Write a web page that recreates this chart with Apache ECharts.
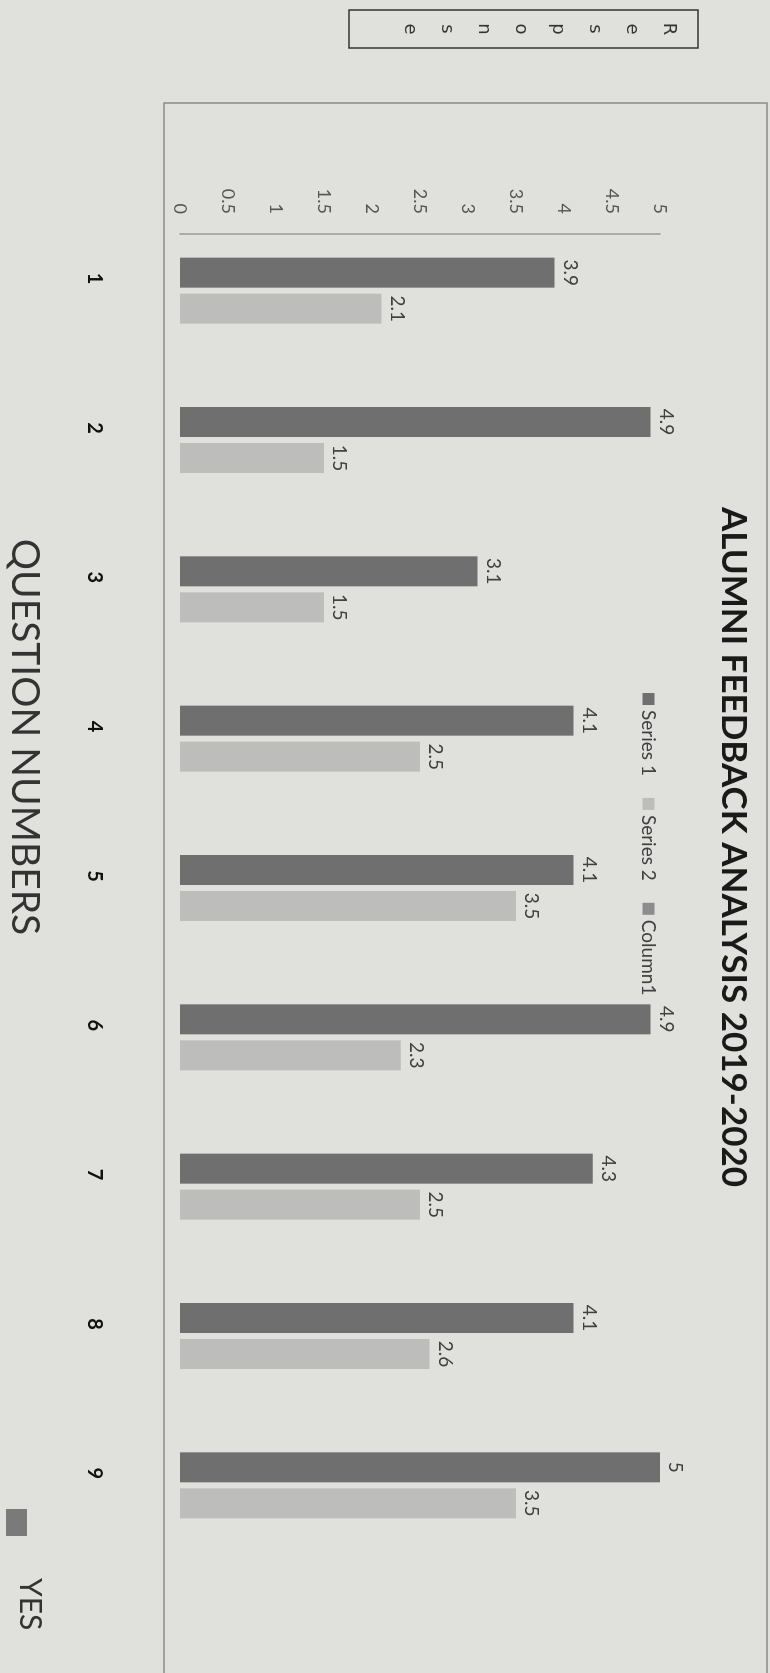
<!DOCTYPE html>
<html>
<head>
<meta charset="utf-8">
<script src="https://cdn.jsdelivr.net/npm/echarts@6/dist/echarts.min.js"></script>
<style>
body{margin:0;background:#e0e0dd;}
#wrap{position:relative;width:770px;height:1673px;overflow:hidden;background:#e0e0dd;}
/* chart is laid out landscape, then turned a quarter clockwise like the photo */
#chart{position:absolute;left:0;top:0;width:1673px;height:770px;transform-origin:0 0;transform:translate(770px,0) rotate(90deg);}
</style>
</head>
<body>
<div id="wrap"><div id="chart"></div></div>
<script>
var questions = ['1','2','3','4','5','6','7','8','9'];
var series1 = [3.9, 4.9, 3.1, 4.1, 4.1, 4.9, 4.3, 4.1, 5];
var series2 = [2.1, 1.5, 1.5, 2.5, 3.5, 2.3, 2.5, 2.6, 3.5];
var column1 = [null, null, null, null, null, null, null, null, null];
var font = 'Lato, "Open Sans", sans-serif';

var mycharts = echarts.init(document.getElementById('chart'));
var option = {
	backgroundColor : '#e0e0dd',
	textStyle : { fontFamily : font },
	title : [{
		text : 'ALUMNI FEEDBACK ANALYSIS 2019-2020',
		left : 842, top : 14, textAlign : 'center',
		textStyle : { fontSize : 35, fontWeight : 'bold', color : '#1a1a1a', fontFamily : font }
	}, {
		// stacked axis title in a box
		text : 'R\ne\ns\np\no\nn\ns\ne',
		left : 16, top : 72, textAlign : 'center',
		padding : [11, 13, 42, 13],
		borderColor : '#333', borderWidth : 1.5,
		textStyle : { fontSize : 18, fontWeight : 'normal', lineHeight : 37, color : '#333', fontFamily : '"DejaVu Sans", sans-serif' }
	}, {
		text : 'QUESTION NUMBERS',
		left : 732, top : 721, textAlign : 'center',
		textStyle : { fontSize : 39, fontWeight : 'normal', color : '#333', fontFamily : font }
	}],
	legend : {
		left : 688, top : 107,
		itemWidth : 12, itemHeight : 12, itemGap : 22,
		icon : 'rect',
		textStyle : { fontSize : 19, color : '#404040', fontFamily : font },
		data : ['Series 1', 'Series 2', 'Column1']
	},
	graphic : [{
		type : 'rect', z : -1,
		shape : { x : 103, y : 3, width : 1700, height : 603 },
		style : { fill : null, stroke : '#8a8a8a', lineWidth : 1.5 }
	}, {
		// the "YES" key sitting in the corner
		type : 'rect',
		shape : { x : 1509, y : 743, width : 27, height : 21 },
		style : { fill : '#7a7a7a' }
	}, {
		type : 'text',
		x : 1578, y : 740,
		style : { text : 'YES', fontSize : 30, fontFamily : font, fill : '#333', verticalAlign : 'middle' }
	}],
	grid : { left : 234, right : 95, top : 110, bottom : 180 },
	xAxis : {
		type : 'category',
		data : questions,
		axisLine : { show : false },
		axisTick : { show : false },
		axisLabel : { margin : 76, fontSize : 20, fontWeight : 'bold', color : '#111', padding : [0, 60, 0, 0] }
	},
	yAxis : {
		type : 'value',
		min : 0, max : 5, interval : 0.5,
		splitLine : { show : false },
		axisLine : { show : true, lineStyle : { color : '#9a9a9a', width : 1.5 } },
		axisLabel : { margin : 20, fontSize : 18, color : '#555' }
	},
	series : [{
		name : 'Series 1', type : 'bar',
		barWidth : 30, barGap : '20%',
		itemStyle : { color : '#6f6f6f' },
		label : { show : true, position : 'top', distance : 6, fontSize : 19, color : '#404040' },
		data : series1
	}, {
		name : 'Series 2', type : 'bar',
		barWidth : 30, barGap : '20%',
		itemStyle : { color : '#bdbdbc' },
		label : { show : true, position : 'top', distance : 6, fontSize : 19, color : '#404040' },
		data : series2
	}, {
		name : 'Column1', type : 'bar',
		barWidth : 30, barGap : '20%',
		itemStyle : { color : '#8c8c8c' },
		data : column1
	}]
};
mycharts.setOption(option);
</script>
</body>
</html>
